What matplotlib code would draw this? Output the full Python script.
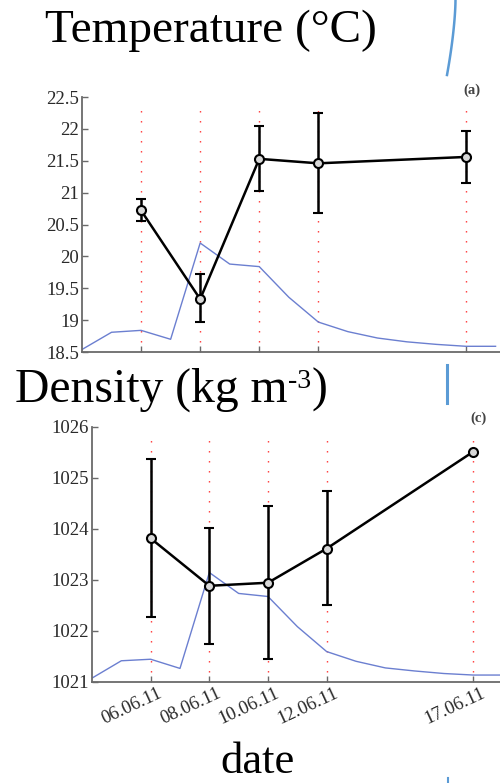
import numpy as np
import matplotlib
matplotlib.use("Agg")
import matplotlib.pyplot as plt
from matplotlib.lines import Line2D
from matplotlib.transforms import ScaledTranslation

plt.rcParams.update({
    "font.family": ["Liberation Serif", "DejaVu Serif"],
})

# ---- data (day of June 2011) ----
obs_days = [6, 8, 10, 12, 17]
date_labels = ["06.06.11", "08.06.11", "10.06.11", "12.06.11", "17.06.11"]

temp_mean = [20.72, 19.33, 21.53, 21.46, 21.56]
temp_lo = [20.55, 18.97, 21.03, 20.68, 21.15]
temp_hi = [20.90, 19.72, 22.04, 22.25, 21.96]

dens_mean = [1023.81, 1022.88, 1022.94, 1023.61, 1025.51]
dens_lo = [1022.27, 1021.74, 1021.44, 1022.50, 1025.51]
dens_hi = [1025.36, 1024.01, 1024.45, 1024.73, 1025.51]

bg_days = [4, 5, 6, 7, 8, 9, 10, 11, 12, 13, 14, 15, 16, 17, 18]
temp_bg = [18.54, 18.81, 18.84, 18.70, 20.21, 19.88, 19.84, 19.36, 18.97, 18.82,
           18.72, 18.66, 18.62, 18.59, 18.59]
dens_bg = [1021.07, 1021.41, 1021.44, 1021.26, 1023.14, 1022.73, 1022.67, 1022.08,
           1021.59, 1021.40, 1021.27, 1021.21, 1021.16, 1021.13, 1021.13]

temp_ticks = [18.5, 19, 19.5, 20, 20.5, 21, 21.5, 22, 22.5]
dens_ticks = [1021, 1022, 1023, 1024, 1025, 1026]

BLUE = "#6b7fd0"
SPINE = "#6a6a6a"
TXT = "#2a2a2a"

fig = plt.figure(figsize=(5.0, 7.83), dpi=100)


def style(ax):
    for s in ("top", "right"):
        ax.spines[s].set_visible(False)
    for s in ("left", "bottom"):
        ax.spines[s].set_color(SPINE)
        ax.spines[s].set_linewidth(1.3)
    ax.tick_params(direction="in", length=4, width=1.0, color=SPINE,
                   labelcolor=TXT, labelsize=13.5, pad=2)


def panel(ax, mean, lo, hi, bg, top):
    ax.plot(bg_days, bg, color=BLUE, lw=1.0, zorder=2)
    for d in obs_days:
        ax.plot([d, d], [ax.get_ylim()[0], top], color="#ff3030", lw=1.0,
                ls=(0, (1, 6.2)), zorder=1)
    m = np.array(mean)
    err = [m - np.array(lo), np.array(hi) - m]
    ax.errorbar(obs_days, mean, yerr=err, color="black", lw=1.8, elinewidth=1.8,
                capsize=3.5, capthick=1.8, marker="o", ms=6.5, mfc="#d8d8d8",
                mec="black", mew=1.5, zorder=3)


# ---- temperature panel ----
ax1 = fig.add_axes([0.164, 0.5504, 0.836, 0.3257])
ax1.set_xlim(4, 18.15)
ax1.set_ylim(18.5, 22.5)
panel(ax1, temp_mean, temp_lo, temp_hi, temp_bg, 22.42)
ax1.set_yticks(temp_ticks)
ax1.set_yticklabels([f"{t:g}" for t in temp_ticks])
ax1.set_xticks(obs_days)
ax1.set_xticklabels([])
style(ax1)

# ---- density panel ----
ax2 = fig.add_axes([0.184, 0.1294, 0.816, 0.3257])
ax2.set_xlim(4, 17.91)
ax2.set_ylim(1021, 1026)
panel(ax2, dens_mean, dens_lo, dens_hi, dens_bg, 1025.85)
ax2.set_yticks(dens_ticks)
ax2.set_yticklabels([str(t) for t in dens_ticks])
ax2.set_xticks(obs_days)
ax2.set_xticklabels(date_labels, rotation=25, ha="right", rotation_mode="anchor",
                    fontsize=12.2)
style(ax2)
ax2.tick_params(axis="x", pad=5)
shift = ScaledTranslation(7 / 100, 4 / 100, fig.dpi_scale_trans)
for lab in ax2.get_xticklabels():
    lab.set_transform(lab.get_transform() + shift)

# ---- slide text ----
fig.text(0.09, 1 - 42.5 / 783, "Temperature (°C)", fontsize=34, color="black",
         ha="left", va="baseline")

# "Density (kg m^-3)" built from pieces so the superscript keeps a plain hyphen
base_y = 1 - 401.7 / 783
t1 = fig.text(0.03, base_y, "Density (kg m", fontsize=34.3, color="black",
              ha="left", va="baseline")
fig.canvas.draw()
r = fig.canvas.get_renderer()
x1 = t1.get_window_extent(r).x1 / fig.bbox.width
t2 = fig.text(x1 + 0.001, base_y + 14 / 783, "-3", fontsize=20, color="black",
              ha="left", va="baseline")
x2 = t2.get_window_extent(r).x1 / fig.bbox.width
fig.text(x2 + 0.001, base_y, ")", fontsize=34.3, color="black",
         ha="left", va="baseline")

fig.text(0.514, 1 - 773 / 783, "date", fontsize=32, color="black",
         ha="center", va="baseline")
fig.text(0.944, 1 - 94 / 783, "(a)", fontsize=10.5, color="#444444",
         fontweight="bold", ha="center", va="baseline")
fig.text(0.957, 1 - 422 / 783, "(c)", fontsize=10.5, color="#444444",
         fontweight="bold", ha="center", va="baseline")

# ---- slide decoration lines ----
cy = np.linspace(0, 75, 20)
cx = 455.5 - 8.5 * (cy / 75) ** 1.6
fig.add_artist(Line2D(cx / 500, 1 - cy / 783, color="#5b9bd5", lw=1.8))
fig.add_artist(Line2D([446.7 / 500] * 2, [1 - 365 / 783, 1 - 403 / 783],
                      color="#5b9bd5", lw=2.2))
fig.add_artist(Line2D([448 / 500] * 2, [1 - 778 / 783, 1.0 - 783 / 783],
                      color="#5b9bd5", lw=1.5))

fig.savefig("out.png", dpi=100)
